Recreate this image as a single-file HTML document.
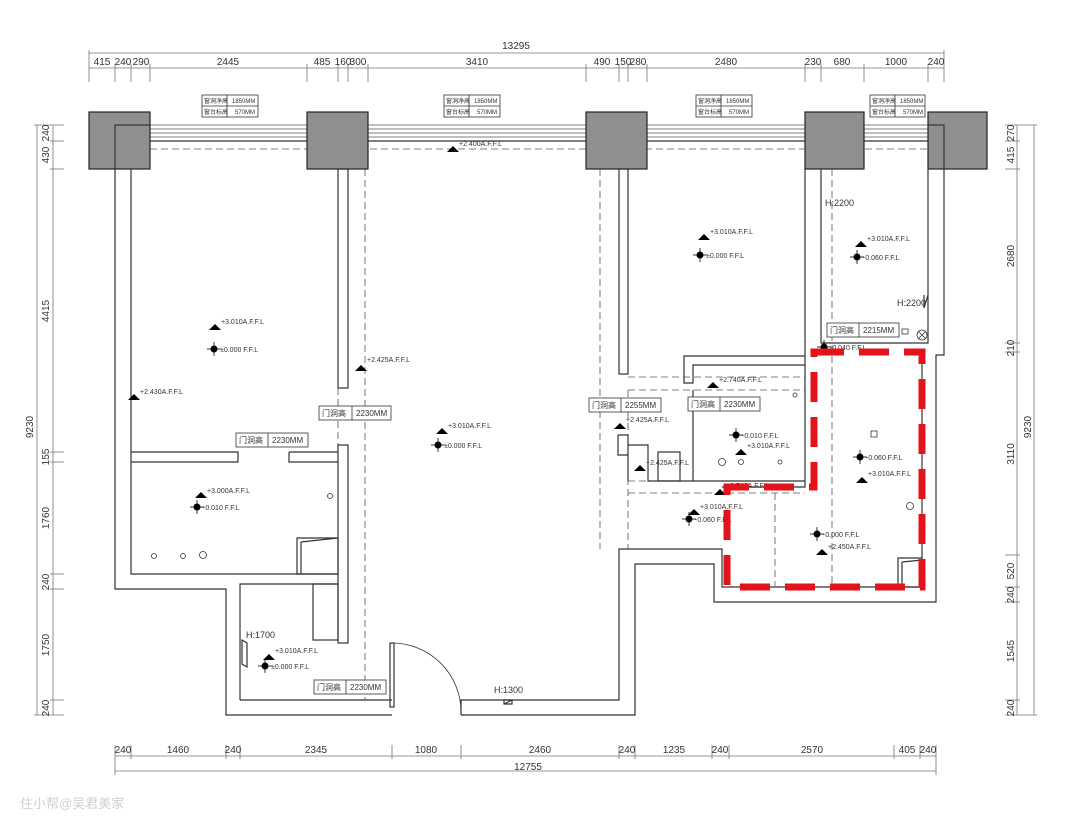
<!DOCTYPE html>
<html><head><meta charset="utf-8"><style>
html,body{margin:0;padding:0;background:#fff}
svg{display:block}
text{font-family:"Liberation Sans","Noto Sans CJK SC",sans-serif;fill:#333}
</style></head><body>
<svg width="1080" height="834" viewBox="0 0 1080 834" xmlns="http://www.w3.org/2000/svg">
<defs>
<g id="tri"><path d="M-6,0 L6,0 L0,-6 Z" fill="#000"/></g>
<g id="tgt"><circle r="3.5" fill="#000"/><line x1="-7" y1="0" x2="7" y2="0" stroke="#000" stroke-width="0.8"/><line x1="0" y1="-7" x2="0" y2="7" stroke="#000" stroke-width="0.8"/></g>
</defs>
<rect width="1080" height="834" fill="#fff"/>

<!-- top dimensions -->
<g stroke="#777" stroke-width="0.8" fill="none">
<line x1="89" y1="53" x2="944" y2="53"/>
<line x1="89" y1="68" x2="944" y2="68"/>
<line x1="89" y1="50" x2="89" y2="82"/>
<line x1="944" y1="50" x2="944" y2="82"/>
<line x1="115" y1="64" x2="115" y2="82"/><line x1="131" y1="64" x2="131" y2="82"/><line x1="150" y1="64" x2="150" y2="82"/>
<line x1="307" y1="64" x2="307" y2="82"/><line x1="338" y1="64" x2="338" y2="82"/><line x1="348" y1="64" x2="348" y2="82"/><line x1="368" y1="64" x2="368" y2="82"/>
<line x1="586" y1="64" x2="586" y2="82"/><line x1="619" y1="64" x2="619" y2="82"/><line x1="628" y1="64" x2="628" y2="82"/><line x1="647" y1="64" x2="647" y2="82"/>
<line x1="805" y1="64" x2="805" y2="82"/><line x1="821" y1="64" x2="821" y2="82"/><line x1="864" y1="64" x2="864" y2="82"/><line x1="928" y1="64" x2="928" y2="82"/>
</g>
<g font-size="10" text-anchor="middle">
<text x="516" y="49">13295</text>
<text x="102" y="65">415</text><text x="123" y="65">240</text><text x="141" y="65">290</text><text x="228" y="65">2445</text>
<text x="322" y="65">485</text><text x="343" y="65">160</text><text x="358" y="65">300</text><text x="477" y="65">3410</text>
<text x="602" y="65">490</text><text x="623" y="65">150</text><text x="638" y="65">280</text><text x="726" y="65">2480</text>
<text x="813" y="65">230</text><text x="842" y="65">680</text><text x="896" y="65">1000</text><text x="936" y="65">240</text>
</g>

<!-- bottom dimensions -->
<g stroke="#777" stroke-width="0.8" fill="none">
<line x1="115" y1="756" x2="936" y2="756"/>
<line x1="115" y1="771" x2="936" y2="771"/>
<line x1="115" y1="745" x2="115" y2="775"/><line x1="936" y1="745" x2="936" y2="775"/>
<line x1="131" y1="745" x2="131" y2="759"/><line x1="226" y1="745" x2="226" y2="759"/><line x1="240" y1="745" x2="240" y2="759"/>
<line x1="392" y1="745" x2="392" y2="759"/><line x1="461" y1="745" x2="461" y2="759"/><line x1="619" y1="745" x2="619" y2="759"/>
<line x1="635" y1="745" x2="635" y2="759"/><line x1="712" y1="745" x2="712" y2="759"/><line x1="729" y1="745" x2="729" y2="759"/>
<line x1="894" y1="745" x2="894" y2="759"/><line x1="920" y1="745" x2="920" y2="759"/>
</g>
<g font-size="10" text-anchor="middle">
<text x="123" y="753">240</text><text x="178" y="753">1460</text><text x="233" y="753">240</text><text x="316" y="753">2345</text>
<text x="426" y="753">1080</text><text x="540" y="753">2460</text><text x="627" y="753">240</text><text x="674" y="753">1235</text>
<text x="720" y="753">240</text><text x="812" y="753">2570</text><text x="907" y="753">405</text><text x="928" y="753">240</text>
<text x="528" y="770">12755</text>
</g>

<!-- left dimensions -->
<g stroke="#777" stroke-width="0.8" fill="none">
<line x1="37" y1="125" x2="37" y2="715"/>
<line x1="53" y1="125" x2="53" y2="715"/>
<line x1="34" y1="125" x2="64" y2="125"/><line x1="34" y1="715" x2="64" y2="715"/>
<line x1="50" y1="141" x2="64" y2="141"/><line x1="50" y1="169" x2="64" y2="169"/><line x1="50" y1="452" x2="64" y2="452"/>
<line x1="50" y1="462" x2="64" y2="462"/><line x1="50" y1="574" x2="64" y2="574"/><line x1="50" y1="589" x2="64" y2="589"/><line x1="50" y1="700" x2="64" y2="700"/>
</g>
<g font-size="10" text-anchor="middle">
<text transform="translate(49,133) rotate(-90)">240</text>
<text transform="translate(49,155) rotate(-90)">430</text>
<text transform="translate(49,311) rotate(-90)">4415</text>
<text transform="translate(49,457) rotate(-90)">155</text>
<text transform="translate(49,518) rotate(-90)">1760</text>
<text transform="translate(49,582) rotate(-90)">240</text>
<text transform="translate(49,645) rotate(-90)">1750</text>
<text transform="translate(49,708) rotate(-90)">240</text>
<text transform="translate(33,427) rotate(-90)">9230</text>
</g>

<!-- right dimensions -->
<g stroke="#777" stroke-width="0.8" fill="none">
<line x1="1017" y1="125" x2="1017" y2="715"/>
<line x1="1034" y1="125" x2="1034" y2="715"/>
<line x1="1005" y1="125" x2="1037" y2="125"/><line x1="1005" y1="715" x2="1037" y2="715"/>
<line x1="1005" y1="141" x2="1020" y2="141"/><line x1="1005" y1="169" x2="1020" y2="169"/><line x1="1005" y1="343" x2="1020" y2="343"/>
<line x1="1005" y1="352" x2="1020" y2="352"/><line x1="1005" y1="555" x2="1020" y2="555"/><line x1="1005" y1="587" x2="1020" y2="587"/>
<line x1="1005" y1="602" x2="1020" y2="602"/><line x1="1005" y1="700" x2="1020" y2="700"/>
</g>
<g font-size="10" text-anchor="middle">
<text transform="translate(1014,133) rotate(-90)">270</text>
<text transform="translate(1014,155) rotate(-90)">415</text>
<text transform="translate(1014,256) rotate(-90)">2680</text>
<text transform="translate(1014,348) rotate(-90)">210</text>
<text transform="translate(1014,454) rotate(-90)">3110</text>
<text transform="translate(1014,571) rotate(-90)">520</text>
<text transform="translate(1014,595) rotate(-90)">240</text>
<text transform="translate(1014,651) rotate(-90)">1545</text>
<text transform="translate(1014,708) rotate(-90)">240</text>
<text transform="translate(1031,427) rotate(-90)">9230</text>
</g>

<!-- window lines -->
<g stroke="#555" stroke-width="0.8">
<line x1="115" y1="125" x2="944" y2="125"/>
<line x1="150" y1="129" x2="928" y2="129"/>
<line x1="150" y1="133" x2="928" y2="133"/>
<line x1="150" y1="137" x2="928" y2="137"/>
<line x1="150" y1="141" x2="928" y2="141" stroke-width="1.4"/>
</g>
<g stroke="#555" stroke-width="0.8" stroke-dasharray="7,4" fill="none">
<line x1="150" y1="149" x2="928" y2="149"/>
<line x1="131" y1="169" x2="131" y2="574"/>
<line x1="365" y1="169" x2="365" y2="700"/>
<line x1="338" y1="388" x2="338" y2="445"/>
<line x1="600" y1="169" x2="600" y2="549"/>
<line x1="805" y1="169" x2="805" y2="487"/>
<line x1="832" y1="169" x2="832" y2="586"/>
<line x1="628" y1="377" x2="805" y2="377"/>
<line x1="628" y1="390" x2="805" y2="390"/>
<line x1="628" y1="481" x2="805" y2="481"/>
<line x1="628" y1="493" x2="805" y2="493"/>
<line x1="628" y1="390" x2="628" y2="549"/>
<line x1="775" y1="493" x2="775" y2="586"/>
</g>

<!-- walls -->
<g stroke="#333" stroke-width="1.2" fill="none">
<path d="M115,125 V589 H226 V715 H392"/>
<path d="M131,169 V574 H338"/>
<path d="M240,700 V584 H338"/>
<path d="M240,700 H392"/>
<path d="M131,452 H238 V462 H131"/>
<path d="M289,452 H338 M289,452 V462 H338"/>
<rect x="338" y="169" width="10" height="219"/>
<rect x="338" y="445" width="10" height="198"/>
<rect x="313" y="584" width="25" height="56"/>
<path d="M461,715 V700 H619 V549 H722 V587 H922 V352"/>
<path d="M461,715 H635 V564 H714 V602 H936 V355 H944 V169"/>
<path d="M928,169 V343 H821 V169"/>
<rect x="619" y="169" width="9" height="205"/>
<path d="M805,169 V487 H722"/>
<path d="M805,356 H684 V383 H693 V365 H805"/>
<path d="M693,390 V481 H805"/>
<path d="M618,435 H628 V445 H648 V481 H693 M628,445 V481 M618,435 V455 H628"/>
<rect x="658" y="452" width="22" height="29"/>
<!-- door -->
<rect x="390" y="643" width="4" height="64"/>
<path d="M392,643 A69,69 0 0 1 461,712" stroke-width="0.8"/>
<!-- sinks -->
<path d="M297,538 H338 V574 H297 Z M301,542 V574 M301,542 L338,538"/>
<path d="M898,558 H922 V587 H898 Z M902,562 V587 M902,562 L922,560"/>
<path d="M242,640 L247,643 V667 L242,664 Z"/>
<path d="M924,295 V308 L928,295"/>
<path d="M504,704 H512 V700 H504 Z M504,704 L512,700"/>
</g>

<!-- columns -->
<g fill="#8f8f8f" stroke="#222" stroke-width="1.2">
<rect x="89" y="112" width="61" height="57"/>
<rect x="307" y="112" width="61" height="57"/>
<rect x="586" y="112" width="61" height="57"/>
<rect x="805" y="112" width="59" height="57"/>
<rect x="928" y="112" width="59" height="57"/>
</g>
<path d="M115,169 V125 H150 M928,125 H944 V169" stroke="#222" stroke-width="1" fill="none"/>

<!-- window boxes -->
<g stroke="#333" stroke-width="0.8" fill="#fff">
<rect x="202" y="95" width="56" height="22"/><line x1="202" y1="106" x2="258" y2="106"/><line x1="227" y1="95" x2="227" y2="117"/>
<rect x="444" y="95" width="56" height="22"/><line x1="444" y1="106" x2="500" y2="106"/><line x1="469" y1="95" x2="469" y2="117"/>
<rect x="696" y="95" width="56" height="22"/><line x1="696" y1="106" x2="752" y2="106"/><line x1="721" y1="95" x2="721" y2="117"/>
<rect x="870" y="95" width="55" height="22"/><line x1="870" y1="106" x2="925" y2="106"/><line x1="895" y1="95" x2="895" y2="117"/>
</g>
<g font-size="6">
<text x="204" y="103">窗洞净高</text><text x="232" y="103">1850MM</text><text x="204" y="114">窗台标高</text><text x="235" y="114">570MM</text>
<text x="446" y="103">窗洞净高</text><text x="474" y="103">1850MM</text><text x="446" y="114">窗台标高</text><text x="477" y="114">570MM</text>
<text x="698" y="103">窗洞净高</text><text x="726" y="103">1850MM</text><text x="698" y="114">窗台标高</text><text x="729" y="114">570MM</text>
<text x="872" y="103">窗洞净高</text><text x="900" y="103">1850MM</text><text x="872" y="114">窗台标高</text><text x="903" y="114">570MM</text>
</g>

<!-- door height boxes -->
<g stroke="#333" stroke-width="0.8" fill="#fff">
<rect x="319" y="406" width="72" height="14"/><line x1="352" y1="406" x2="352" y2="420"/>
<rect x="236" y="433" width="72" height="14"/><line x1="268" y1="433" x2="268" y2="447"/>
<rect x="314" y="680" width="72" height="14"/><line x1="346" y1="680" x2="346" y2="694"/>
<rect x="589" y="398" width="72" height="14"/><line x1="621" y1="398" x2="621" y2="412"/>
<rect x="688" y="397" width="72" height="14"/><line x1="720" y1="397" x2="720" y2="411"/>
<rect x="827" y="323" width="72" height="14"/><line x1="859" y1="323" x2="859" y2="337"/>
</g>
<g font-size="8">
<text x="322" y="416">门洞高</text><text x="356" y="416">2230MM</text>
<text x="239" y="443">门洞高</text><text x="272" y="443">2230MM</text>
<text x="317" y="690">门洞高</text><text x="350" y="690">2230MM</text>
<text x="592" y="408">门洞高</text><text x="625" y="408">2255MM</text>
<text x="691" y="407">门洞高</text><text x="724" y="407">2230MM</text>
<text x="830" y="333">门洞高</text><text x="863" y="333">2215MM</text>
</g>

<!-- elevation markers -->
<g font-size="7">
<use href="#tri" x="453" y="152"/><text x="459" y="146">+2.400A.F.F.L</text>
<use href="#tri" x="215" y="330"/><text x="221" y="324">+3.010A.F.F.L</text><use href="#tgt" x="214" y="349"/><text x="220" y="352">±0.000  F.F.L</text>
<use href="#tri" x="134" y="400"/><text x="140" y="394">+2.430A.F.F.L</text>
<use href="#tri" x="361" y="371"/><text x="367" y="362">+2.425A.F.F.L</text>
<use href="#tri" x="442" y="434"/><text x="448" y="428">+3.010A.F.F.L</text><use href="#tgt" x="438" y="445"/><text x="444" y="448">±0.000  F.F.L</text>
<use href="#tri" x="201" y="498"/><text x="207" y="493">+3.000A.F.F.L</text><use href="#tgt" x="197" y="507"/><text x="203" y="510">-0.010  F.F.L</text>
<use href="#tri" x="269" y="660"/><text x="275" y="653">+3.010A.F.F.L</text><use href="#tgt" x="265" y="666"/><text x="271" y="669">±0.000  F.F.L</text>
<use href="#tri" x="704" y="240"/><text x="710" y="234">+3.010A.F.F.L</text><use href="#tgt" x="700" y="255"/><text x="706" y="258">±0.000  F.F.L</text>
<use href="#tri" x="861" y="247"/><text x="867" y="241">+3.010A.F.F.L</text><use href="#tgt" x="857" y="257"/><text x="863" y="260">-0.060  F.F.L</text>
<use href="#tri" x="713" y="388"/><text x="719" y="382">+2.740A.F.F.L</text>
<use href="#tri" x="620" y="429"/><text x="626" y="422">+2.425A.F.F.L</text>
<use href="#tri" x="640" y="471"/><text x="646" y="465">+2.425A.F.F.L</text>
<use href="#tgt" x="736" y="435"/><text x="742" y="438">-0.010  F.F.L</text><use href="#tri" x="741" y="455"/><text x="747" y="448">+3.010A.F.F.L</text>
<use href="#tgt" x="860" y="457"/><text x="866" y="460">-0.060  F.F.L</text><use href="#tri" x="862" y="483"/><text x="868" y="476">+3.010A.F.F.L</text>
<use href="#tri" x="720" y="495"/><text x="726" y="488">+2.740A.F.F.L</text>
<use href="#tri" x="694" y="515"/><text x="700" y="509">+3.010A.F.F.L</text><use href="#tgt" x="689" y="519"/><text x="695" y="522">-0.060  F.F.L</text>
<use href="#tgt" x="817" y="534"/><text x="823" y="537">-0.000  F.F.L</text><use href="#tri" x="822" y="555"/><text x="828" y="549">+2.450A.F.F.L</text>
<use href="#tgt" x="824" y="347"/><text x="830" y="350">-0.040  F.F.L</text>
<text x="246" y="638" font-size="9">H:1700</text>
<text x="494" y="693" font-size="9">H:1300</text>
<text x="825" y="206" font-size="9">H:2200</text>
<text x="897" y="306" font-size="9">H:2200</text>
</g>
<g stroke="#333" stroke-width="0.8" fill="none">
<circle cx="330" cy="496" r="2.5"/><circle cx="154" cy="556" r="2.5"/><circle cx="183" cy="556" r="2.5"/><circle cx="203" cy="555" r="3.5"/>
<circle cx="722" cy="462" r="3.5"/><circle cx="741" cy="462" r="2.5"/><circle cx="780" cy="462" r="2"/><circle cx="795" cy="395" r="2"/>
<circle cx="910" cy="506" r="3.5"/><circle cx="922" cy="335" r="5"/><path d="M918.5,331.5 L925.5,338.5 M925.5,331.5 L918.5,338.5"/>
<rect x="871" y="431" width="6" height="6"/><rect x="902" y="329" width="6" height="5"/>
</g>

<!-- red dashed outline -->
<path d="M814,352 H922 V587 H727 V487 H814 Z" fill="none" stroke="#e3121b" stroke-width="7" stroke-dasharray="30,15"/>

<text x="20" y="808" font-size="13" fill="#ccc" style="fill:#cfcfcf">住小帮@吴君美家</text>
</svg>
</body></html>
